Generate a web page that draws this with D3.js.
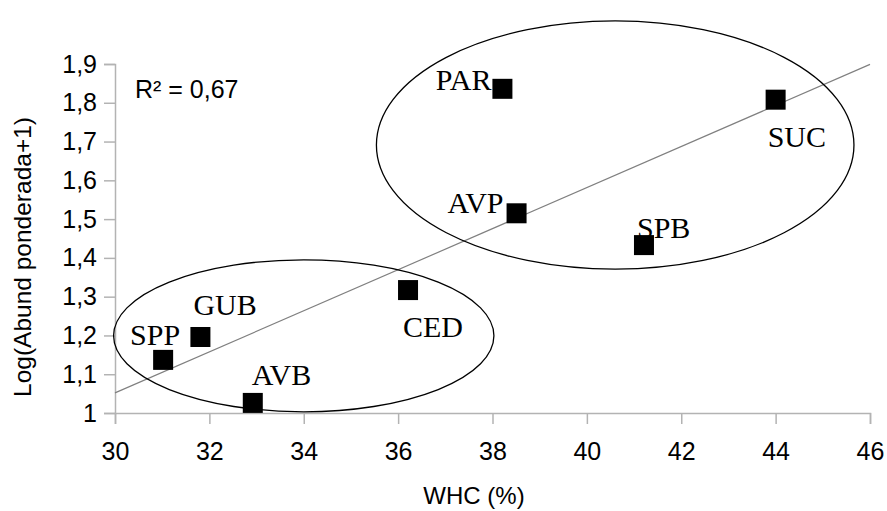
<!DOCTYPE html>
<html>
<head>
<meta charset="utf-8">
<script src="https://cdn.jsdelivr.net/npm/d3@7"></script>
<style>
	body { margin: 0; background: #fff; }
	svg { display: block; }
</style>
</head>
<body>
<svg class="chart"></svg>
<script>
const size = { w: 887, h: 511 };
const plot = { left: 115, right: 870, top: 64, bottom: 413 };

// the sites and their values
const sites = ["SPP", "GUB", "AVB", "CED", "PAR", "AVP", "SPB", "SUC"];
const whc = [31.02, 31.81, 32.92, 36.21, 38.21, 38.51, 41.21, 44.0];
const logAbund = [1.137, 1.196, 1.026, 1.317, 1.836, 1.515, 1.433, 1.808];

// the two groups circled on the chart (data units)
const groupCenterX = [34.0, 40.6];
const groupCenterY = [1.199, 1.691];
const groupRadiusX = [4.03, 5.06];
const groupRadiusY = [0.196, 0.32];

// axes
const xTickValues = [30, 32, 34, 36, 38, 40, 42, 44, 46];
const yTickValues = [1, 1.1, 1.2, 1.3, 1.4, 1.5, 1.6, 1.7, 1.8, 1.9];
const xTitle = "WHC (%)";
const yTitle = "Log(Abund ponderada+1)";

// where each site label sits relative to its marker
const labelPlacement = {
	SPP: { anchor: "end", dx: 17, dy: -15 },
	GUB: { anchor: "start", dx: -7, dy: -22 },
	AVB: { anchor: "start", dx: -1, dy: -18 },
	CED: { anchor: "start", dx: -5, dy: 47 },
	PAR: { anchor: "end", dx: -11, dy: 1 },
	AVP: { anchor: "end", dx: -13, dy: 0 },
	SPB: { anchor: "start", dx: -7, dy: -7 },
	SUC: { anchor: "start", dx: -8, dy: 47 },
};

const sans = "'Liberation Sans', Arial, sans-serif";

const svg = d3.select("svg.chart").attr("width", size.w).attr("height", size.h);

const x = d3.scaleLinear().domain([30, 46]).range([plot.left, plot.right]);
const y = d3.scaleLinear().domain([1, 1.9]).range([plot.bottom, plot.top]);

const points = sites.map((s, i) => ({ site: s, x: whc[i], y: logAbund[i] }));

const commaFmt = (d) => String(+d.toFixed(2)).replace(".", ",");

// x axis
const xAxis = svg
	.append("g")
	.attr("transform", `translate(0,${plot.bottom})`)
	.call(
		d3.axisBottom(x).tickValues(xTickValues).tickSize(11).tickPadding(18).tickFormat(commaFmt)
	);

// y axis
const yAxis = svg
	.append("g")
	.attr("transform", `translate(${plot.left},0)`)
	.call(
		d3.axisLeft(y).tickValues(yTickValues).tickSize(11).tickPadding(7).tickFormat(commaFmt)
	);

[xAxis, yAxis].forEach((g) => {
	g.select(".domain").attr("stroke", "#b3b3b3").attr("stroke-width", 1.5);
	g.selectAll(".tick line").attr("stroke", "#b3b3b3").attr("stroke-width", 1.5);
	g.selectAll(".tick text")
		.attr("fill", "#000")
		.style("font-family", sans)
		.style("font-size", "25px");
});

// axis titles
svg
	.append("text")
	.attr("x", 474)
	.attr("y", 504)
	.attr("text-anchor", "middle")
	.style("font-family", sans)
	.style("font-size", "24px")
	.text(xTitle);

svg
	.append("text")
	.attr("transform", `translate(31,257) rotate(-90)`)
	.attr("text-anchor", "middle")
	.style("font-family", sans)
	.style("font-size", "24.5px")
	.text(yTitle);

// linear trend line, fitted to the points
const mx = d3.mean(points, (d) => d.x);
const my = d3.mean(points, (d) => d.y);
const sxy = d3.sum(points, (d) => (d.x - mx) * (d.y - my));
const sxx = d3.sum(points, (d) => (d.x - mx) ** 2);
const syy = d3.sum(points, (d) => (d.y - my) ** 2);
const slope = sxy / sxx;
const intercept = my - slope * mx;
const r2 = (sxy * sxy) / (sxx * syy);

const trend = x.domain().map((v) => [v, intercept + slope * v]);
svg
	.append("path")
	.datum(trend)
	.attr("fill", "none")
	.attr("stroke", "#808080")
	.attr("stroke-width", 1.2)
	.attr(
		"d",
		d3
			.line()
			.x((d) => x(d[0]))
			.y((d) => y(d[1]))
	);

// group ellipses
svg
	.selectAll("ellipse.group")
	.data(groupCenterX.map((cx, i) => i))
	.join("ellipse")
	.attr("class", "group")
	.attr("cx", (i) => x(groupCenterX[i]))
	.attr("cy", (i) => y(groupCenterY[i]))
	.attr("rx", (i) => x(groupCenterX[i] + groupRadiusX[i]) - x(groupCenterX[i]))
	.attr("ry", (i) => y(groupCenterY[i]) - y(groupCenterY[i] + groupRadiusY[i]))
	.attr("fill", "none")
	.attr("stroke", "#000")
	.attr("stroke-width", 1.3);

// markers
const markerSize = 20;
svg
	.selectAll("rect.pt")
	.data(points)
	.join("rect")
	.attr("class", "pt")
	.attr("x", (d) => x(d.x) - markerSize / 2)
	.attr("y", (d) => y(d.y) - markerSize / 2)
	.attr("width", markerSize)
	.attr("height", markerSize)
	.attr("fill", "#000");

// site labels
svg
	.selectAll("text.site")
	.data(points)
	.join("text")
	.attr("class", "site")
	.attr("x", (d) => x(d.x) + labelPlacement[d.site].dx)
	.attr("y", (d) => y(d.y) + labelPlacement[d.site].dy)
	.attr("text-anchor", (d) => labelPlacement[d.site].anchor)
	.style("font-family", "'Liberation Serif', 'Times New Roman', serif")
	.style("font-size", "30px")
	.text((d) => d.site);

// R² note
svg
	.append("text")
	.attr("x", 135)
	.attr("y", 98)
	.style("font-family", sans)
	.style("font-size", "25px")
	.text("R² = " + r2.toFixed(2).replace(".", ","));
</script>
</body>
</html>
